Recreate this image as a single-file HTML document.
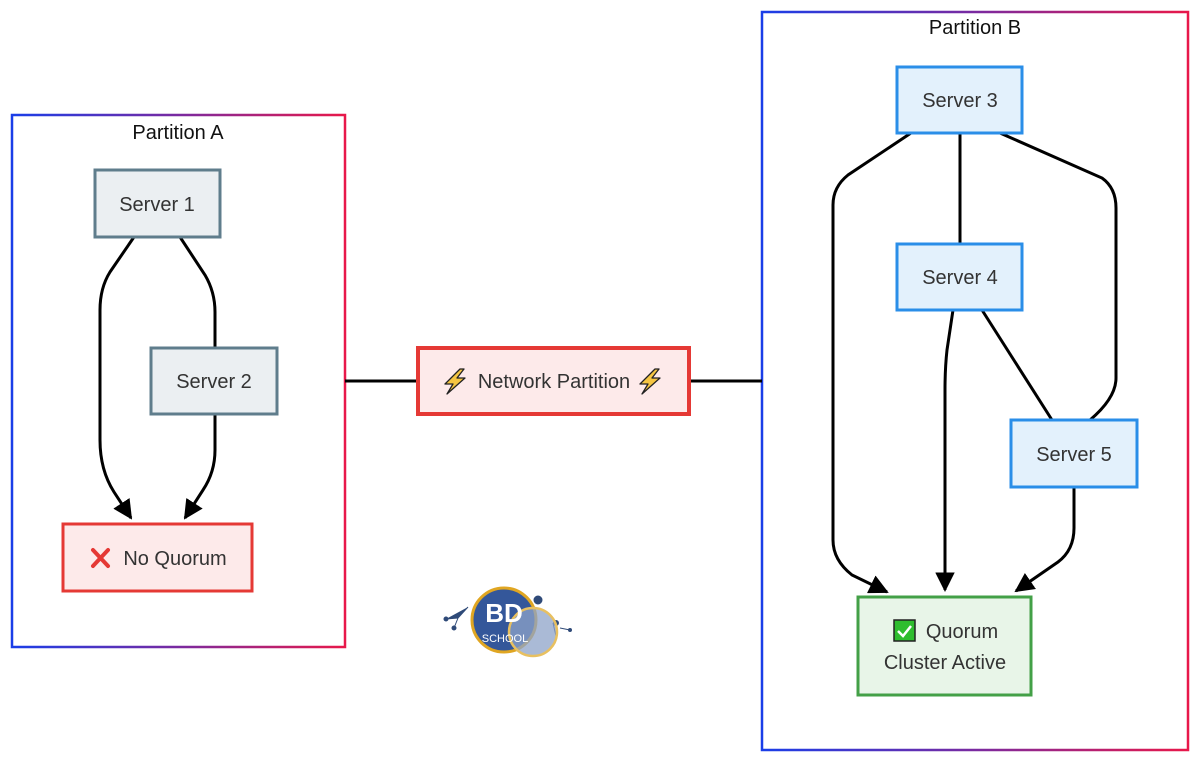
<!DOCTYPE html>
<html><head><meta charset="utf-8"><style>
html,body{margin:0;padding:0;background:#fff;}
svg text{font-family:"Liberation Sans",sans-serif;fill:#333;}
</style></head><body>
<svg width="1200" height="763" viewBox="0 0 1200 763" xmlns="http://www.w3.org/2000/svg">
<defs>
<linearGradient id="gA" x1="0" y1="0" x2="1" y2="0"><stop offset="0" stop-color="#1a3ee8"/><stop offset="0.5" stop-color="#7a2aa0"/><stop offset="1" stop-color="#e8184a"/></linearGradient>
<marker id="ar" viewBox="0 0 10 10" refX="9" refY="5" markerWidth="6.5" markerHeight="6.5" orient="auto-start-reverse" markerUnits="strokeWidth"><path d="M0,0 L10,5 L0,10 z" fill="#000"/></marker>
</defs>
<rect x="12" y="115" width="333" height="532" fill="none" stroke="url(#gA)" stroke-width="2.5"/>
<text x="178" y="139" font-size="20" text-anchor="middle" style="fill:#111">Partition A</text>
<rect x="762" y="12" width="426" height="738" fill="none" stroke="url(#gA)" stroke-width="2.5"/>
<text x="975" y="34" font-size="20" text-anchor="middle" style="fill:#111">Partition B</text>

<g fill="none" stroke="#000" stroke-width="3">
<path d="M134,237 L110,272 Q100,288 100,310 L100,440 Q100,470 114,492 L131,518" marker-end="url(#ar)"/>
<path d="M180,237 L205,275 Q215,292 215,312 L215,348"/>
<path d="M215,414 L215,450 Q215,472 203,490 L185,518" marker-end="url(#ar)"/>
<path d="M345,381 L418,381 M689,381 L762,381"/>
<path d="M911,133 L848,175 Q833,187 833,205 L833,540 Q833,560 852,575 L887,592" marker-end="url(#ar)"/>
<path d="M960,133 L960,244"/>
<path d="M1000,133 L1102,178 Q1116,188 1116,208 L1116,378 Q1116,398 1090,420"/>
<path d="M953,310 L947,350 Q945,368 945,390 L945,590" marker-end="url(#ar)"/>
<path d="M982,310 L1052,420"/>
<path d="M1074,487 L1074,528 Q1074,550 1058,562 L1016,591" marker-end="url(#ar)"/>
</g>

<g stroke-width="3">
<rect x="95" y="170" width="125" height="67" fill="#ebeff2" stroke="#5f7d8c"/>
<rect x="151" y="348" width="126" height="66" fill="#ebeff2" stroke="#5f7d8c"/>
<rect x="63" y="524" width="189" height="67" fill="#fdeaea" stroke="#e53935"/>
<rect x="418" y="348" width="271" height="66" fill="#fdeaea" stroke="#e53935" stroke-width="4"/>
<rect x="897" y="67" width="125" height="66" fill="#e3f1fc" stroke="#2a8ee8"/>
<rect x="897" y="244" width="125" height="66" fill="#e3f1fc" stroke="#2a8ee8"/>
<rect x="1011" y="420" width="126" height="67" fill="#e3f1fc" stroke="#2a8ee8"/>
<rect x="858" y="597" width="173" height="98" fill="#e8f5e8" stroke="#43a047"/>
</g>

<g font-size="20" text-anchor="middle">
<text x="157" y="211">Server 1</text>
<text x="214" y="388">Server 2</text>
<text x="175" y="565">No Quorum</text>
<text x="554" y="388">Network Partition</text>
<text x="960" y="107">Server 3</text>
<text x="960" y="284">Server 4</text>
<text x="1074" y="461">Server 5</text>
<text x="962" y="638">Quorum</text>
<text x="945" y="669">Cluster Active</text>
</g>
<g stroke="#e53935" stroke-width="4" stroke-linecap="round"><path d="M93,550 L108,566 M108,550 L93,566"/></g>
<g fill="#f5c542" stroke="#222" stroke-width="1.3" stroke-linejoin="round">
<path d="M460,369 L445,384 L453,384 L447,394 L465,378 L457,378 L464,369 z"/>
<path d="M655,369 L640,384 L648,384 L642,394 L660,378 L652,378 L659,369 z"/>
</g>
<rect x="894" y="620" width="21" height="21" fill="#2ebd2e" stroke="#222" stroke-width="1.5"/>
<path d="M898,631 L903,636 L911,626" stroke="#fff" stroke-width="2.5" fill="none"/>
<g>
<g stroke="#2f4a78" stroke-width="1" fill="#2f4a78">
<path d="M446,619 L458,618 L468,607 M458,618 L454,628 M560,628 L570,630 M553,623 L556,636"/>
<circle cx="446" cy="619" r="2"/><circle cx="454" cy="628" r="2"/><circle cx="538" cy="600" r="4"/><circle cx="556" cy="623" r="2.5"/><circle cx="570" cy="630" r="1.5"/>
</g>
<circle cx="504" cy="620" r="32" fill="#34579a" stroke="#e0a622" stroke-width="3"/>
<circle cx="533" cy="632" r="24" fill="#8ea3c8" fill-opacity="0.75" stroke="#e8c060" stroke-width="2.5"/>
<text x="504" y="622" font-size="26" font-weight="bold" text-anchor="middle" style="fill:#fff">BD</text>
<text x="505" y="642" font-size="11" text-anchor="middle" style="fill:#fff">SCHOOL</text>
</g>
</svg>
</body></html>
